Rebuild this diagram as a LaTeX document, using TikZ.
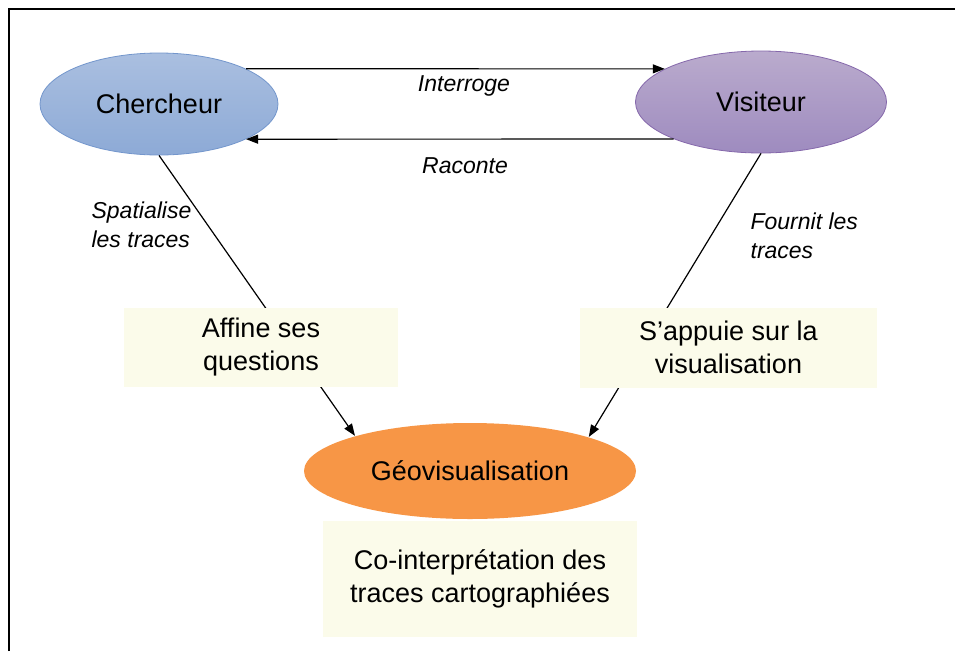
\documentclass[tikz,border=0pt]{standalone}
\usepackage{fontspec}
\setmainfont{Liberation Sans}
\usetikzlibrary{shapes.geometric, arrows.meta}
\definecolor{chtop}{HTML}{AABFE0}
\definecolor{chbot}{HTML}{8DAAD6}
\definecolor{chline}{HTML}{7396CC}
\definecolor{vitop}{HTML}{BAABCD}
\definecolor{vibot}{HTML}{9E8BBF}
\definecolor{viline}{HTML}{8568AB}
\definecolor{geoorange}{HTML}{F79646}
\definecolor{notefill}{HTML}{FBFBEA}
\tikzset{
    actor/.style={ellipse, inner sep=0pt, font=\fontsize{27}{32}\selectfont},
    notebox/.style={rectangle, fill=notefill, inner sep=0pt, align=center,
        font=\fontsize{27}{33}\selectfont},
    verb/.style={inner sep=0pt, align=left, font=\fontsize{23}{29}\selectfont\itshape},
}

\begin{document}
\begin{tikzpicture}[x=1pt, y=-1pt, >={Triangle[length=12pt, width=9pt]}, line width=1.2pt]
    \useasboundingbox (0,0) rectangle (955,651);
    \draw[line width=2.2pt] (9,651) -- (9,9) -- (955,9);

    \node[actor, minimum width=238, minimum height=102, top color=chtop, bottom color=chbot, draw=chline, line width=0.8pt] (ch) at (159,104) {Chercheur};
    \node[actor, minimum width=251, minimum height=102, top color=vitop, bottom color=vibot, draw=viline, line width=0.8pt] (vi) at (761,102) {Visiteur};
    \node[actor, minimum width=332, minimum height=96, fill=geoorange] (geo) at (470,471) {Géovisualisation};

    \draw[->] (ch.22) -- (vi.161);
    \draw[->] (vi.203) -- (ch.338);
    \draw[->] (ch.south) -- (geo.163);
    \draw[->] (vi.south) -- (geo.16);

    \node[notebox, minimum width=274, minimum height=79] (aff) at (261,347.5) {Affine ses\\questions};
    \node[notebox, minimum width=297, minimum height=80] (sap) at (728.5,347.5) {S’appuie sur la\\visualisation};
    \node[notebox, minimum width=314, minimum height=116] (coi) at (480,579) {Co-interprétation des\\traces cartographiées};

    \node[verb] (inter) at (464,86) {Interroge};
    \node[verb] (racon) at (465,166) {Raconte};
    \node[verb, anchor=west] (spat) at (91,225) {Spatialise\\les traces};
    \node[verb, anchor=west] (fourn) at (750,236) {Fournit les\\traces};
\end{tikzpicture}
\end{document}
